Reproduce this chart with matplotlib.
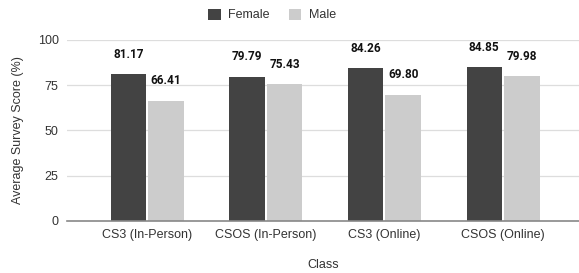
import matplotlib.pyplot as plt
import numpy as np

classes = ["CS3 (In-Person)", "CSOS (In-Person)", "CS3 (Online)", "CSOS (Online)"]
female = [81.17, 79.79, 84.26, 84.85]
male = [66.41, 75.43, 69.80, 79.98]
yticks = [0, 25, 50, 75, 100]

plt.rcParams['font.family'] = ['Liberation Sans', 'DejaVu Sans']

fig = plt.figure(figsize=(5.79, 2.73), dpi=100)
ax = fig.add_axes([0.1157, 0.1905, 0.8843, 0.663])

x = np.arange(len(classes))
w = 0.30
b1 = ax.bar(x - w/2 - 0.008, female, w, color="#434343", label="Female")
b2 = ax.bar(x + w/2 + 0.008, male, w, color="#cccccc", label="Male")

# value labels above each bar
for bars, vals in ((b1, female), (b2, male)):
    for r, v in zip(bars, vals):
        ax.annotate(f"{v:.2f}", (r.get_x() + r.get_width()/2, v),
                    xytext=(0, 20), textcoords="offset pixels",
                    ha="center", va="center", fontsize=8.5,
                    fontweight="bold", family=["Roboto", "DejaVu Sans"],
                    color="#111111")

ax.set_ylim(0, 100)
ax.set_xlim(-0.675, 3.64)
ax.set_yticks(yticks)
ax.set_xticks(x)
ax.set_xticklabels(classes)
ax.tick_params(length=0, labelsize=9, colors="#333333", pad=6)
ax.grid(axis="y", color="#dddddd", linewidth=0.9)
ax.set_axisbelow(True)
for s in ["top", "right", "left"]:
    ax.spines[s].set_visible(False)
ax.spines["bottom"].set_color("#888888")
ax.spines["bottom"].set_linewidth(1.2)

ax.set_ylabel("Average Survey Score (%)", fontsize=9, color="#333333", labelpad=10)
ax.set_xlabel("Class", fontsize=9, color="#333333", labelpad=13)

fig.legend(loc="center", bbox_to_anchor=(0.47, 0.945), ncol=2, frameon=False,
           fontsize=9, handlelength=1.0, handleheight=1.0, columnspacing=1.5,
           handletextpad=0.6, labelcolor="#333333")

fig.savefig("out.png", dpi=100)
